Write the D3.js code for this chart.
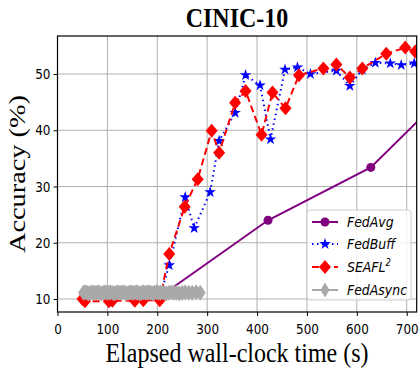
<!DOCTYPE html>
<html>
<head>
<meta charset="utf-8">
<script src="https://cdn.jsdelivr.net/npm/d3@7"></script>
<style>
  body { margin: 0; background: #fff; }
</style>
</head>
<body>
<div id="chart"></div>
<script>
// Veriler: [zaman (s), doğruluk (%)]
const xTicks = [0, 100, 200, 300, 400, 500, 600, 700];
const yTicks = [10, 20, 30, 40, 50];

const fedAvg = [[205, 10.4], [422, 24.0], [628, 33.4], [835, 51.5]];

const fedBuff = [[55, 10.3], [100, 10.2], [150, 10.3], [205, 10.4], [224, 16.0], [256, 28.1],
  [274, 22.6], [306, 29.0], [324, 38.1], [356, 43.1], [377, 49.8], [406, 48.0],
  [427, 38.4], [456, 50.8], [481, 51.2], [507, 50.0], [559, 50.6], [586, 47.9],
  [611, 50.8], [637, 52.0], [667, 51.9], [689, 51.6], [715, 51.9]];

const seafl = [[50, 10.0], [55, 9.6], [103, 9.6], [110, 9.7], [155, 9.7], [172, 9.8],
  [205, 9.8], [224, 18.0], [255, 26.4], [281, 31.3], [309, 39.9], [324, 36.0],
  [356, 44.9], [377, 47.0], [409, 39.2], [431, 46.7], [457, 43.9], [484, 49.8],
  [533, 51.0], [559, 51.7], [586, 49.4], [611, 51.0], [659, 53.6], [697, 54.7], [717, 54.0]];

const fedAsync = [[52, 11.1], [55, 11.2], [59, 11.1], [62, 11.0], [66, 11.1], [70, 11.2],
  [73, 11.1], [77, 11.1], [81, 11.2], [84, 11.1], [88, 11.0], [92, 11.1],
  [95, 11.2], [99, 11.1], [103, 11.1], [106, 11.2], [110, 11.1], [114, 11.0],
  [117, 11.1], [121, 11.2], [125, 11.1], [128, 11.1], [132, 11.2], [136, 11.1],
  [139, 11.0], [143, 11.1], [147, 11.2], [150, 11.1], [154, 11.1], [158, 11.2],
  [161, 11.1], [165, 11.0], [169, 11.1], [172, 11.2], [176, 11.1], [180, 11.1],
  [183, 11.2], [187, 11.1], [191, 11.0], [194, 11.1], [198, 11.2], [202, 11.1],
  [206, 11.1], [210, 11.2], [214, 11.1], [218, 11.0], [223, 11.1], [228, 11.2],
  [233, 11.1], [238, 11.1], [244, 11.0], [250, 11.1], [256, 11.2], [263, 11.1],
  [270, 11.1], [278, 11.2], [286, 11.1]];

const W = 419, H = 370;
const mLeft = 57.5, mRight = 416.7, mTop = 36, mBottom = 312;
const sy = 1.18; // resimdeki dikey gerilme

const svg = d3.select('#chart').append('svg')
  .attr('width', W).attr('height', H);

const x = d3.scaleLinear().domain([0, 720]).range([mLeft, mRight]);
const y = d3.scaleLinear().domain([7.69, 56.76]).range([mBottom, mTop]);

svg.append('clipPath').attr('id', 'clip')
  .append('rect').attr('x', mLeft).attr('y', mTop)
  .attr('width', mRight - mLeft).attr('height', mBottom - mTop);

// Izgara
const grid = svg.append('g').attr('stroke', '#b0b0b0').attr('stroke-width', 1);
xTicks.forEach(t => grid.append('line')
  .attr('x1', x(t)).attr('x2', x(t)).attr('y1', mTop).attr('y2', mBottom));
yTicks.forEach(t => grid.append('line')
  .attr('x1', mLeft).attr('x2', mRight).attr('y1', y(t)).attr('y2', y(t)));

// Eksenler
const xAxis = svg.append('g').attr('transform', `translate(0,${mBottom})`)
  .call(d3.axisBottom(x).tickValues(xTicks).tickSize(4).tickSizeOuter(0));
const yAxis = svg.append('g').attr('transform', `translate(${mLeft},0)`)
  .call(d3.axisLeft(y).tickValues(yTicks).tickSize(4).tickSizeOuter(0));
[xAxis, yAxis].forEach(a => {
  a.select('.domain').remove();
  a.selectAll('text').attr('font-family', 'DejaVu Sans').attr('font-size', 12).attr('fill', '#000');
});
xAxis.selectAll('.tick text').attr('dy', null).attr('y', 0)
  .attr('transform', `translate(0,22) scale(1,${sy})`);
yAxis.selectAll('.tick text').attr('x', 0).attr('dy', null)
  .attr('transform', `translate(-7,4.5) scale(1,${sy})`);

const plot = svg.append('g').attr('clip-path', 'url(#clip)');
const lineGen = d3.line().x(d => x(d[0])).y(d => y(d[1]));

const series = [
  { name: 'FedAvg', data: fedAvg, color: '#800080', dash: null, marker: 'circle' },
  { name: 'FedBuff', data: fedBuff, color: '#0000ff', dash: '1.5,3.5', marker: 'star' },
  { name: 'SEAFL', data: seafl, color: '#ff0000', dash: '7,4', marker: 'diamond' },
  { name: 'FedAsync', data: fedAsync, color: '#a9a9a9', dash: null, marker: 'thin' }
];

function drawMarker(g, kind, cx, cy, color, big) {
  if (kind === 'circle') {
    g.append('circle').attr('cx', cx).attr('cy', cy).attr('r', 4.5).attr('fill', color);
  } else if (kind === 'star') {
    g.append('path').attr('d', d3.symbol(d3.symbolStar, 42)())
      .attr('transform', `translate(${cx},${cy})`).attr('fill', color);
  } else if (kind === 'diamond') {
    g.append('path').attr('d', 'M0,-7L6,0L0,7L-6,0Z')
      .attr('transform', `translate(${cx},${cy})`).attr('fill', color);
  } else {
    const hw = big ? 5.5 : 4.5, hh = big ? 8 : 7.5;
    g.append('path').attr('d', `M0,-${hh}L${hw},0L0,${hh}L-${hw},0Z`)
      .attr('transform', `translate(${cx},${cy})`).attr('fill', color);
  }
}

series.forEach(s => {
  plot.append('path').datum(s.data)
    .attr('d', lineGen).attr('fill', 'none')
    .attr('stroke', s.color).attr('stroke-width', 2)
    .attr('stroke-dasharray', s.dash);
  const mg = plot.append('g');
  s.data.forEach(d => drawMarker(mg, s.marker, x(d[0]), y(d[1]), s.color, true));
});

// Çerçeve
svg.append('rect').attr('x', mLeft).attr('y', mTop)
  .attr('width', mRight - mLeft).attr('height', mBottom - mTop)
  .attr('fill', 'none').attr('stroke', '#000').attr('stroke-width', 1.2);

// Lejant
const lg = svg.append('g');
lg.append('rect').attr('x', 307).attr('y', 210).attr('width', 104).attr('height', 90)
  .attr('rx', 3).attr('fill', 'rgba(255,255,255,0.8)').attr('stroke', '#cccccc');
const rowY = [222, 244, 267, 290];
series.forEach((s, i) => {
  const yy = rowY[i];
  lg.append('line').attr('x1', 312).attr('x2', 338).attr('y1', yy).attr('y2', yy)
    .attr('stroke', s.color).attr('stroke-width', 2).attr('stroke-dasharray', s.dash);
  drawMarker(lg, s.marker, 325, yy, s.color, false);
  const t = lg.append('text').attr('transform', `translate(347,${yy + 4.5}) scale(1,${sy})`)
    .attr('font-family', 'DejaVu Sans').attr('font-style', 'italic').attr('font-size', 12.5);
  t.append('tspan').text(s.name);
  if (s.name === 'SEAFL') t.append('tspan').attr('font-size', 8.5).attr('dy', -5).text('2');
});

// Başlık ve eksen etiketleri
svg.append('text').attr('transform', `translate(237,27) scale(1,${sy})`)
  .attr('text-anchor', 'middle').attr('font-family', 'Liberation Serif')
  .attr('font-weight', 'bold').attr('font-size', 24).text('CINIC-10');
svg.append('text').attr('transform', `translate(237,362) scale(1,${sy})`)
  .attr('text-anchor', 'middle').attr('font-family', 'Liberation Serif')
  .attr('font-size', 24).text('Elapsed wall-clock time (s)');
svg.append('text').attr('transform', `translate(25,174) scale(1,${sy}) rotate(-90)`)
  .attr('text-anchor', 'middle').attr('font-family', 'Liberation Serif')
  .attr('font-size', 24).text('Accuracy (%)');
</script>
</body>
</html>
